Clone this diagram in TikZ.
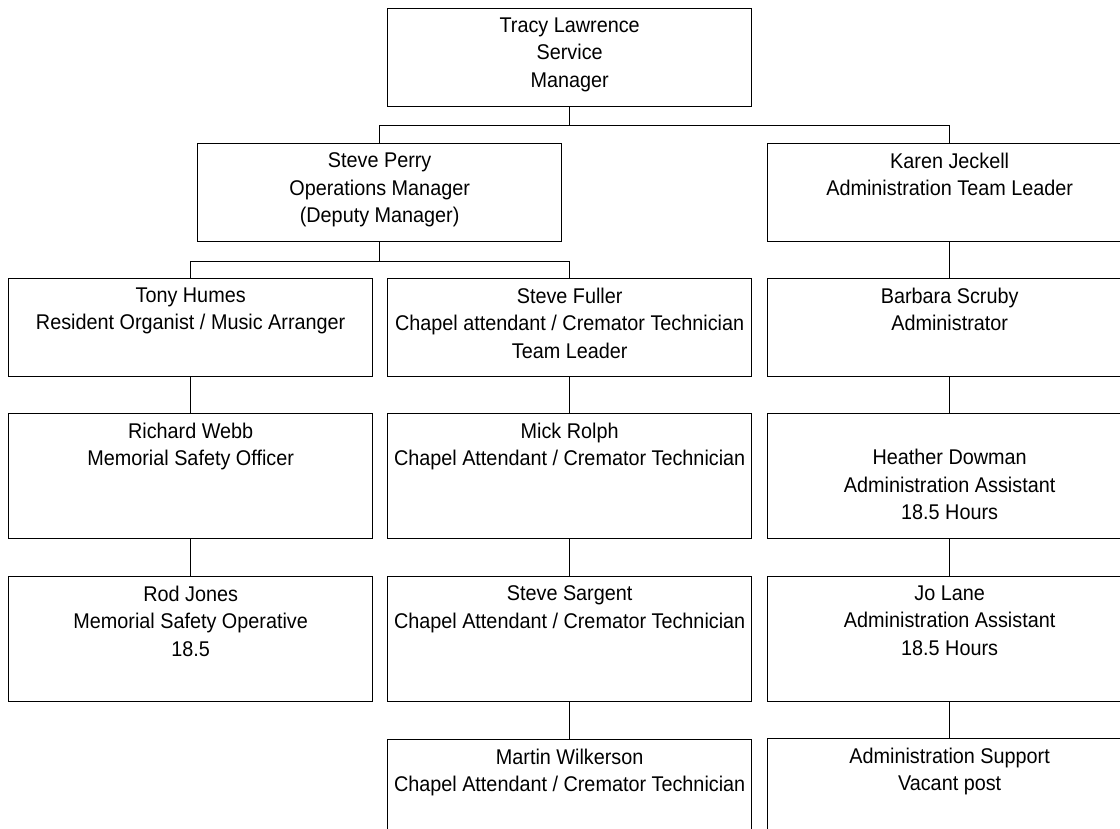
\documentclass[tikz,border=0pt]{standalone}
\usepackage{fontspec}
\setmainfont{Liberation Sans}[FakeStretch=0.93]
\tikzset{
  post/.style={draw, line width=1.3pt, rectangle, anchor=north west, inner sep=0pt,
               minimum width=364pt, minimum height=98pt},
  tallpost/.style={post, minimum height=125pt},
  posttext/.style={anchor=north, yshift=-9.5pt, align=center, inner sep=0pt,
                   font=\fontsize{21.3}{27.5}\selectfont,
                   execute at begin node={\rule{0pt}{20pt}}},
  link/.style={line width=1.3pt}
}

\begin{document}
\begin{tikzpicture}[x=1pt, y=-1pt]
  \useasboundingbox (0,0) rectangle (1120,829);
  \clip (0,0) rectangle (1120,829);
  % manager and deputies
  \node[post, label={[posttext]north:{Tracy Lawrence\\Service\\Manager}}] (tracy) at (387,8) {};
  \node[post, label={[posttext]north:{Steve Perry\\Operations Manager\\(Deputy Manager)}}] (perry) at (197,143) {};
  \node[post, label={[posttext]north:{Karen Jeckell\\Administration Team Leader}}] (karen) at (767,143) {};
  % third row
  \node[post, label={[posttext]north:{Tony Humes\\Resident Organist / Music Arranger}}] (tony) at (8,278) {};
  \node[post, label={[posttext]north:{Steve Fuller\\Chapel attendant / Cremator Technician\\Team Leader}}] (fuller) at (387,278) {};
  \node[post, label={[posttext]north:{Barbara Scruby\\Administrator}}] (barbara) at (767,278) {};
  % fourth row
  \node[tallpost, label={[posttext]north:{Richard Webb\\Memorial Safety Officer}}] (webb) at (8,413) {};
  \node[tallpost, label={[posttext]north:{Mick Rolph\\Chapel Attendant / Cremator Technician}}] (rolph) at (387,413) {};
  \node[tallpost, label={[posttext, yshift=-26.5pt]north:{Heather Dowman\\Administration Assistant\\18.5 Hours}}] (dowman) at (767,413) {};
  % fifth row
  \node[tallpost, label={[posttext]north:{Rod Jones\\Memorial Safety Operative\\18.5}}] (jones) at (8,576) {};
  \node[tallpost, label={[posttext]north:{Steve Sargent\\Chapel Attendant / Cremator Technician}}] (sargent) at (387,576) {};
  \node[tallpost, label={[posttext]north:{Jo Lane\\Administration Assistant\\18.5 Hours}}] (lane) at (767,576) {};
  % last row
  \node[tallpost, label={[posttext]north:{Martin Wilkerson\\Chapel Attendant / Cremator Technician}}] (wilkerson) at (387,739) {};
  \node[tallpost, label={[posttext]north:{Administration Support\\Vacant post}}] (support) at (767,738) {};
  % connectors
  \draw[link] (tracy.south) -- ++(0,18) -| (perry.north);
  \draw[link] (tracy.south) -- ++(0,18) -| (karen.north);
  \draw[link] (perry.south) -- ++(0,19) -| (tony.north);
  \draw[link] (perry.south) -- ++(0,19) -| (fuller.north);
  \foreach \a/\b in {karen/barbara, barbara/dowman, dowman/lane, lane/support,
                     tony/webb, webb/jones,
                     fuller/rolph, rolph/sargent, sargent/wilkerson}
    \draw[link] (\a) -- (\b);
\end{tikzpicture}
\end{document}
